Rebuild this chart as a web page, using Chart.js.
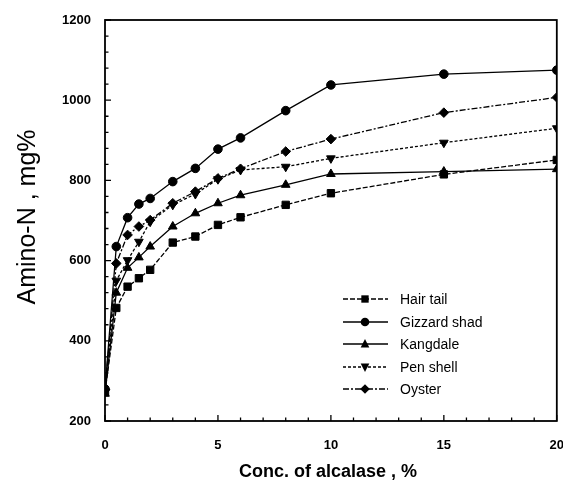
<!DOCTYPE html>
<html lang="en">
<head>
<meta charset="UTF-8">
<title>Amino-N vs alcalase</title>
<style>
  body { margin: 0; background: #fff; }
  #wrap { width: 563px; height: 484px; }
</style>
<script src="https://cdn.jsdelivr.net/npm/chart.js"></script>
</head>
<body>
<div id="wrap"><canvas id="aminoChart" width="563" height="484"></canvas></div>
<script>
// concentration of alcalase (%)
const conc = [0, 0.5, 1, 1.5, 2, 3, 4, 5, 6, 8, 10, 15, 20];

// Amino-N, mg%
const hairTail    = [272, 482, 535, 556, 577, 645, 660, 689, 708, 739, 768, 815, 851];
const gizzardShad = [280, 635, 707, 741, 755, 797, 830, 878, 906, 974, 1038, 1065, 1075];
const kangdale    = [268, 520, 582, 608, 635, 685, 718, 743, 763, 789, 816, 822, 828];
const penShell    = [274, 550, 601, 647, 697, 739, 766, 803, 826, 834, 855, 894, 930];
const oyster      = [278, 593, 664, 685, 701, 743, 772, 805, 829, 872, 903, 969, 1007];

const yTicks = [200, 400, 600, 800, 1000, 1200];
const xTicks = [0, 5, 10, 15, 20];

const FONT = "'Liberation Sans', Arial, sans-serif";

function pts(vals) {
    return conc.map((c, i) => ({ x: c, y: vals[i] }));
}

function series(label, vals, style, radius, dash, rotation) {
    return {
        label: label,
        data: pts(vals),
        borderColor: "#000",
        backgroundColor: "#000",
        borderWidth: 1.3,
        borderDash: dash,
        pointStyle: style,
        pointRotation: rotation || 0,
        pointRadius: radius,
        pointBorderWidth: 1,
        tension: 0
    };
}

const datasets = [
    series("Hair tail", hairTail, "rect", 5.2, [5, 2]),
    series("Gizzard shad", gizzardShad, "circle", 4.3, []),
    series("Kangdale", kangdale, "triangle", 5, []),
    series("Pen shell", penShell, "triangle", 5, [3, 2], 180),
    series("Oyster", oyster, "rectRot", 4.8, [6, 2, 2, 2])
];

function drawMarker(ctx, style, x, y, r, rot) {
    ctx.save();
    ctx.translate(x, y);
    ctx.rotate((rot || 0) * Math.PI / 180);
    ctx.beginPath();
    if (style === "rect") {
        const s = r * Math.SQRT1_2;
        ctx.rect(-s, -s, 2 * s, 2 * s);
    } else if (style === "circle") {
        ctx.arc(0, 0, r, 0, Math.PI * 2);
    } else if (style === "triangle") {
        ctx.moveTo(0, -r);
        ctx.lineTo(r * 0.866, r * 0.5 + 1);
        ctx.lineTo(-r * 0.866, r * 0.5 + 1);
        ctx.closePath();
    } else if (style === "rectRot") {
        ctx.moveTo(0, -r);
        ctx.lineTo(r, 0);
        ctx.lineTo(0, r);
        ctx.lineTo(-r, 0);
        ctx.closePath();
    }
    ctx.fillStyle = "#000";
    ctx.fill();
    ctx.restore();
}

// frame, inward ticks, axis titles and legend
const decorations = {
    id: "decorations",
    afterDatasetsDraw(chart) {
        const ctx = chart.ctx;
        const a = chart.chartArea;
        const xs = chart.scales.x, ys = chart.scales.y;
        ctx.save();
        ctx.strokeStyle = "#000";
        ctx.lineWidth = 1.8;
        ctx.strokeRect(a.left, a.top, a.right - a.left, a.bottom - a.top);

        ctx.lineWidth = 1.3;
        ctx.beginPath();
        for (let v = 200; v <= 1200; v += 40) {
            const y = ys.getPixelForValue(v);
            const len = (v % 200 === 0) ? 6 : 3.5;
            ctx.moveTo(a.left, y);
            ctx.lineTo(a.left + len, y);
        }
        for (let v = 0; v <= 20; v += 1) {
            const x = xs.getPixelForValue(v);
            const len = (v % 5 === 0) ? 6 : 3.5;
            ctx.moveTo(x, a.bottom);
            ctx.lineTo(x, a.bottom - len);
        }
        ctx.stroke();

        // axis titles
        ctx.fillStyle = "#000";
        ctx.textAlign = "center";
        ctx.textBaseline = "alphabetic";
        ctx.font = "bold 18px " + FONT;
        ctx.fillText("Conc. of alcalase , %", 328, 477);

        ctx.save();
        ctx.translate(35, 217);
        ctx.rotate(-Math.PI / 2);
        ctx.font = "25px " + FONT;
        ctx.fillText("Amino-N , mg%", 0, 0);
        ctx.restore();

        // legend
        const rowY = [299, 322, 344, 367, 389];
        ctx.font = "14px " + FONT;
        ctx.textAlign = "left";
        ctx.textBaseline = "middle";
        chart.data.datasets.forEach((ds, i) => {
            const y = rowY[i];
            ctx.lineWidth = 1.3;
            ctx.setLineDash(ds.borderDash);
            ctx.beginPath();
            ctx.moveTo(343, y);
            ctx.lineTo(388, y);
            ctx.stroke();
            ctx.setLineDash([]);
            drawMarker(ctx, ds.pointStyle, 365, y, ds.pointRadius, ds.pointRotation);
            ctx.fillText(ds.label, 400, y + 1);
        });
        ctx.restore();
    }
};

new Chart(document.getElementById("aminoChart"), {
    type: "line",
    data: { datasets: datasets },
    options: {
        responsive: false,
        animation: false,
        devicePixelRatio: 1,
        layout: { padding: { top: 20, right: 5, left: 0, bottom: 0 } },
        plugins: {
            legend: { display: false },
            tooltip: { enabled: false }
        },
        scales: {
            x: {
                type: "linear",
                min: 0,
                max: 20,
                afterBuildTicks: (s) => { s.ticks = xTicks.map(v => ({ value: v })); },
                afterFit: (s) => { s.height = 63; s.paddingLeft = 0; s.paddingRight = 0; },
                grid: { display: false },
                border: { display: false },
                ticks: {
                    padding: 9,
                    color: "#000",
                    maxRotation: 0,
                    callback: (v) => String(v),
                    font: { family: FONT, size: 13, weight: "bold" }
                }
            },
            y: {
                type: "linear",
                min: 200,
                max: 1200,
                afterBuildTicks: (s) => { s.ticks = yTicks.map(v => ({ value: v })); },
                afterFit: (s) => { s.width = 105; s.paddingTop = 0; s.paddingBottom = 0; },
                grid: { display: false },
                border: { display: false },
                ticks: {
                    padding: 6,
                    color: "#000",
                    callback: (v) => String(v),
                    font: { family: FONT, size: 13, weight: "bold" }
                }
            }
        }
    },
    plugins: [decorations]
});
</script>
</body>
</html>
